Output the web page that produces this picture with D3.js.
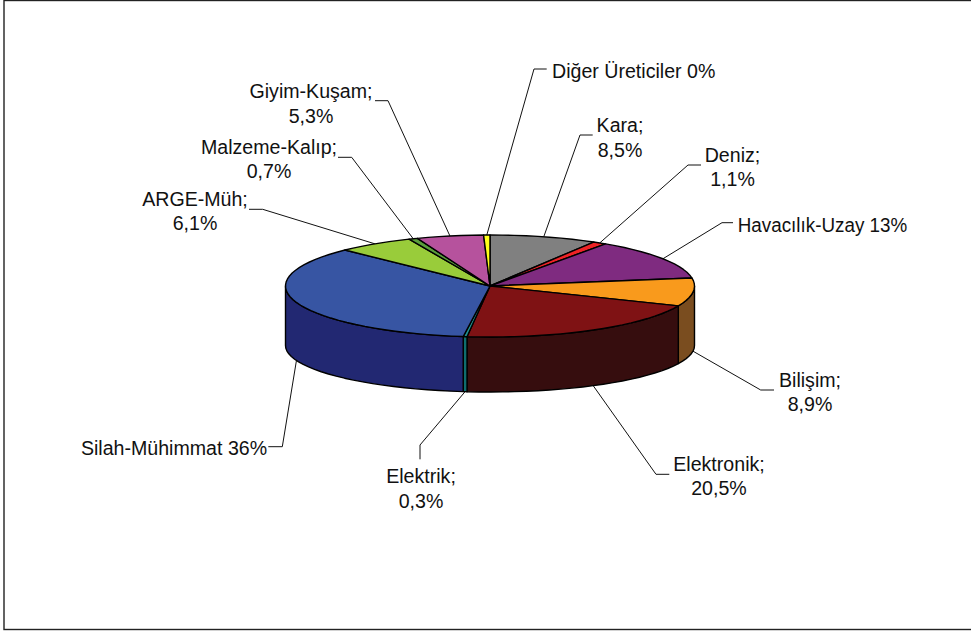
<!DOCTYPE html>
<html><head><meta charset="utf-8">
<script src="https://cdn.jsdelivr.net/npm/d3@7/dist/d3.min.js"></script>
<style>html,body{margin:0;padding:0;background:#fff}svg{display:block}text{font-family:"Liberation Sans",Arial,sans-serif;font-size:19.6px;fill:#111}</style>
</head><body><svg id="c" width="971" height="631"></svg>
<script>
const categories=["Kara","Deniz","Havacılık-Uzay","Bilişim","Elektronik","Elektrik","Silah-Mühimmat","ARGE-Müh","Malzeme-Kalıp","Giyim-Kuşam","Diğer Üreticiler"];
const values=[8.5,1.1,13,8.9,20.5,0.3,35.5,6.1,0.7,5.3,0.5];
const valueLabels=["8,5%","1,1%","13%","8,9%","20,5%","0,3%","36%","6,1%","0,7%","5,3%","0%"];
const topColors=["#808080","#ee2326","#7f2b80","#f99a1c","#7f1214","#1f8f8f","#3755a3","#99cc3a","#5a9e3c","#b6529d","#ffff1a"];
const sideColors=["#404040","#77100f","#401540","#7a4d1f","#360d0e","#0f6e6e","#222872","#4c661d","#2d4f1e","#5b294e","#80800d"];
const inlineLabel=[false,false,true,false,false,false,true,false,false,false,true];
// label layout: [text centre x, first baseline y, elbow x, elbow y, end x, end y, optional text width]
const labelLayout=[[620,132.3,580,135,592.7,135],[732.5,162,688,165,701,165],[822.5,231.7,722,222.7,733,222.7,169.5],[810,386.7,760.7,390,774,390],[719,471,656,474.3,669.3,474.3],[421,483.3,420,445,420,459.3],[174,455,282.3,446.7,268.3,446.7],[195,205.7,262.7,209.3,249,209.3],[269,154,351.7,157.3,338,157.3],[311,98.3,388,100.7,375,100.7],[633.7,77.7,534,69,546.7,69]];
const cx=490,cy=286,rx=204.5,ry=51;
const svg=d3.select("#c");
const sx=d3.scaleLinear().domain([-1,1]).range([cx-rx,cx+rx]);
const sy=d3.scaleLinear().domain([-1,1]).range([cy-ry,cy+ry]);
const syBottom=d3.scaleLinear().domain([-1,1]).range([345.5-46.5,345.5+46.5]);
const px=a=>sx(Math.sin(a)),py=a=>sy(-Math.cos(a)),pyb=a=>syBottom(-Math.cos(a));
const line=d3.line();
const arcs=d3.pie().sort(null)(values);
const samples=(a,b)=>{const n=Math.max(2,Math.ceil((b-a)/0.06));return d3.range(n+1).map(i=>a+(b-a)*i/n);};
svg.append("rect").attr("x",4).attr("y",0.5).attr("width",975).attr("height",629).attr("fill","#fff").attr("stroke","#222").attr("stroke-width",1.4);
// leader lines
arcs.forEach((d,i)=>{
  const mid=(d.startAngle+d.endAngle)/2,l=labelLayout[i];
  const south=Math.cos(mid)<0;
  const p0=[px(mid),south?pyb(mid):py(mid)];
  svg.append("path").attr("d",line([p0,[l[2],l[3]],[l[4],l[5]]])).attr("fill","none").attr("stroke","#111").attr("stroke-width",1);
});
// side walls
arcs.forEach((d,i)=>{
  const a=Math.max(d.startAngle,Math.PI/2),b=Math.min(d.endAngle,Math.PI*1.5);
  if(b<=a)return;
  const s=samples(a,b);
  const pts=s.map(t=>[px(t),py(t)]).concat(s.slice().reverse().map(t=>[px(t),pyb(t)]));
  svg.append("path").attr("d",line(pts)+"Z").attr("fill",sideColors[i]).attr("stroke","#000").attr("stroke-width",1.4).attr("stroke-linejoin","round");
});
// top faces
arcs.forEach((d,i)=>{
  const pts=[[sx(0),sy(0)]].concat(samples(d.startAngle,d.endAngle).map(t=>[px(t),py(t)]));
  svg.append("path").attr("d",line(pts)+"Z").attr("fill",topColors[i]).attr("stroke","#000").attr("stroke-width",1.4).attr("stroke-linejoin","round");
});
// labels
categories.forEach((c,i)=>{
  const l=labelLayout[i];
  const lines=inlineLabel[i]?[c+" "+valueLabels[i]]:[c+";",valueLabels[i]];
  lines.forEach((t,j)=>{
    const el=svg.append("text").attr("x",l[0]).attr("y",l[1]+j*24.3).attr("text-anchor","middle").text(t);
    if(l[6])el.attr("textLength",l[6]).attr("lengthAdjust","spacingAndGlyphs");
  });
});
</script></body></html>
